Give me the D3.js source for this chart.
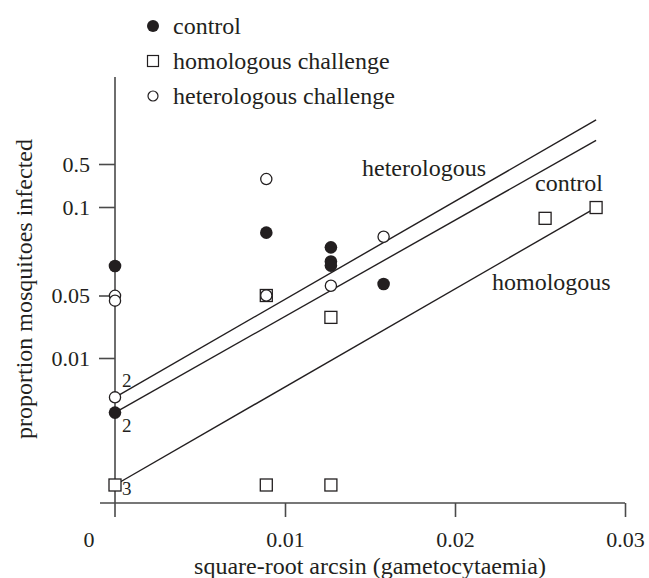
<!DOCTYPE html>
<html lang="en">
<head>
<meta charset="UTF-8">
<title>Proportion mosquitoes infected</title>
<script src="https://d3js.org/d3.v7.min.js"></script>
<style>
  body { margin: 0; background: #fff; }
  svg { display: block; font-family: "Liberation Serif", "Times New Roman", serif; }
  .axis path, .axis line { stroke: #4a4a4a; stroke-width: 1.6; }
  .axis text { font-size: 22px; fill: #231f20; font-family: "Liberation Serif", serif; }
  .fit { stroke: #231f20; stroke-width: 1.4; fill: none; }
  .lab { font-size: 24px; fill: #231f20; }
  .cnt { font-size: 19px; fill: #231f20; }
</style>
</head>
<body>
<svg width="649" height="578"></svg>
<script>
// ticks
const xTicks = [0.01, 0.02, 0.03];
const yTicks = [0.01, 0.05, 0.1, 0.5];
const yTickLabels = ["0.01", "0.05", "0.1", "0.5"];

// control (filled circles)
const controlX = [0, 0, 0.0089, 0.0127, 0.0127, 0.0127, 0.0158];
const controlY = [0.0667, 0.0057, 0.0855, 0.0772, 0.0692, 0.0669, 0.0565];
const controlN = [1, 2, 1, 1, 1, 1, 1];

// homologous challenge (open squares)
const homX = [0, 0.0089, 0.0127, 0.0089, 0.0127, 0.0253, 0.0283];
const homY = [0, 0, 0, 0.05, 0.036, 0.0936, 0.0997];
const homN = [3, 1, 1, 1, 1, 1, 1];

// heterologous challenge (open circles)
const hetX = [0, 0, 0, 0.0089, 0.0089, 0.0127, 0.0158];
const hetY = [0.0498, 0.0467, 0.0069, 0.36, 0.05, 0.0555, 0.0832];
const hetN = [1, 1, 2, 1, 1, 1, 1];

// fitted lines, value at start and end of x range
const fitX = [0, 0.0283];
const fitNames = ["heterologous", "control", "homologous"];
const fitHet = [0.0069, 0.91];
const fitCon = [0.0057, 0.72];
const fitHom = [0, 0.0997];

const svg = d3.select("svg");
const ink = "#231f20";

const x = d3.scaleLinear().domain([0, 0.03]).range([115, 625]);
// the published axis is not evenly spaced, so piecewise between the labelled ticks
const y = d3.scaleLinear().domain([0, 0.01, 0.05, 0.1, 0.5]).range([485, 358, 295.5, 207, 164]);

// x axis
const gx = svg.append("g").attr("class", "axis").attr("transform", "translate(0,503)")
  .call(d3.axisBottom(x).tickValues(xTicks).tickFormat(d3.format(".2f")).tickSize(14).tickSizeOuter(0));
gx.select(".domain").attr("d", `M${x(0) - 15},0H${x(0.03)}`);
gx.selectAll(".tick text").attr("dy", "1.23em");
gx.append("text").attr("x", x(0) - 26).attr("y", 44).attr("text-anchor", "middle")
  .attr("fill", ink).text("0");

// y axis
const gy = svg.append("g").attr("class", "axis").attr("transform", `translate(${x(0)},0)`)
  .call(d3.axisLeft(y).tickValues(yTicks).tickFormat((d, i) => yTickLabels[i]).tickSize(16).tickSizeOuter(0));
gy.select(".domain").attr("d", "M0,77V517");
gy.selectAll(".tick text").attr("x", -25);

// axis titles
svg.append("text").attr("class", "lab").attr("x", (x(0) + x(0.03)) / 2).attr("y", 574)
  .attr("text-anchor", "middle").text("square-root arcsin (gametocytaemia)");
svg.append("text").attr("class", "lab").attr("transform", "translate(32,289) rotate(-90)")
  .attr("text-anchor", "middle").text("proportion mosquitoes infected");

// fit lines
const fits = [fitHet, fitCon, fitHom];
const line = d3.line().x(d => x(d[0])).y(d => y(d[1]));
svg.selectAll(".fit").data(fits).join("path").attr("class", "fit")
  .attr("d", f => line(fitX.map((xv, i) => [xv, f[i]])));

const fitLabelPos = [[362, 176], [535, 191], [492, 290]];
svg.selectAll(".fitlab").data(fitNames).join("text").attr("class", "lab")
  .attr("x", (d, i) => fitLabelPos[i][0]).attr("y", (d, i) => fitLabelPos[i][1]).text(d => d);

// points
function pts(xs, ys) { return xs.map((v, i) => ({ x: v, y: ys[i] })); }

svg.append("g").selectAll("rect").data(pts(homX, homY)).join("rect")
  .attr("x", d => x(d.x) - 6).attr("y", d => y(d.y) - 6).attr("width", 12).attr("height", 12)
  .attr("fill", "#fff").attr("stroke", ink).attr("stroke-width", 1.3);
svg.append("g").selectAll("circle").data(pts(hetX, hetY)).join("circle")
  .attr("cx", d => x(d.x)).attr("cy", d => y(d.y)).attr("r", 5.6)
  .attr("fill", "#fff").attr("stroke", ink).attr("stroke-width", 1.3);
svg.append("g").selectAll("circle").data(pts(controlX, controlY)).join("circle")
  .attr("cx", d => x(d.x)).attr("cy", d => y(d.y)).attr("r", 6.3).attr("fill", ink);

// counts of coincident points
const counts = [
  { x: hetX, y: hetY, n: hetN, dy: -10 },
  { x: controlX, y: controlY, n: controlN, dy: 19 },
  { x: homX, y: homY, n: homN, dy: 10 }
];
counts.forEach(c => {
  c.n.forEach((n, i) => {
    if (n > 1) svg.append("text").attr("class", "cnt")
      .attr("x", x(c.x[i]) + 7).attr("y", y(c.y[i]) + c.dy).text(n);
  });
});

// legend
const legend = [
  { label: "control", shape: "dot" },
  { label: "homologous challenge", shape: "square" },
  { label: "heterologous challenge", shape: "circle" }
];
const lg = svg.append("g").selectAll("g").data(legend).join("g")
  .attr("transform", (d, i) => `translate(153,${26 + i * 35})`);
lg.each(function (d) {
  const g = d3.select(this);
  if (d.shape === "dot") g.append("circle").attr("r", 6).attr("fill", ink);
  if (d.shape === "square") g.append("rect").attr("x", -5.5).attr("y", -5.5).attr("width", 11).attr("height", 11)
    .attr("fill", "#fff").attr("stroke", ink).attr("stroke-width", 1.2);
  if (d.shape === "circle") g.append("circle").attr("r", 5).attr("fill", "#fff").attr("stroke", ink).attr("stroke-width", 1.2);
});
lg.append("text").attr("class", "lab").attr("x", 20).attr("y", 8).text(d => d.label);
</script>
</body>
</html>
